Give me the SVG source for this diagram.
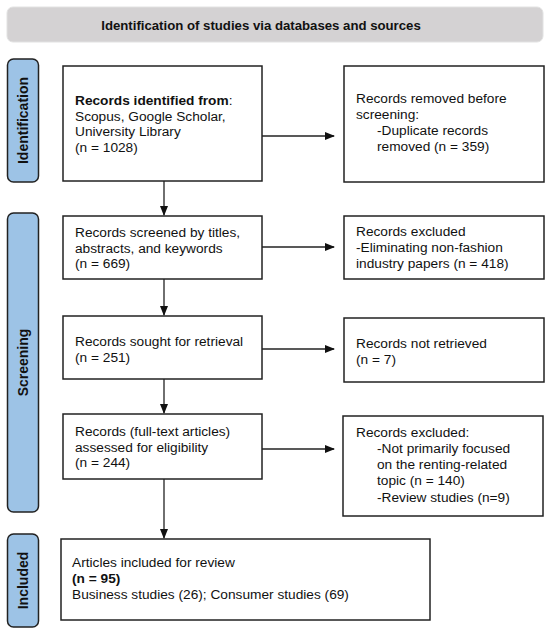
<svg xmlns="http://www.w3.org/2000/svg" width="550" height="634" viewBox="0 0 550 634">
<defs>
<marker id="ah" markerWidth="10" markerHeight="10" refX="9" refY="5" orient="auto" markerUnits="userSpaceOnUse">
<path d="M0,1 L10,5 L0,9 Z" fill="#111"/>
</marker>
<style>
text{font-family:"Liberation Sans",Arial,sans-serif;font-size:13.7px;fill:#111}
.b{font-weight:bold}
.box{fill:#fff;stroke:#222;stroke-width:1.5}
.lab{fill:#9dc3e6;stroke:#222;stroke-width:1.5}
.lt{font-weight:bold;font-size:14px;text-anchor:middle}
.c{stroke:#222;stroke-width:1.3;fill:none;marker-end:url(#ah)}
</style>
</defs>
<rect width="550" height="634" fill="#fff"/>
<g id="header">
<rect x="7" y="7" width="536" height="35" rx="6" fill="#d4d2d3" stroke="#e2e2e2"/>
<text x="261" y="30" class="b" text-anchor="middle" style="font-size:13.2px">Identification of studies via databases and sources</text>
</g>
<g id="lab-identification">
<rect x="7.5" y="59" width="31" height="123" rx="6" class="lab"/>
<text class="lt" transform="translate(28,120.5) rotate(-90)">Identification</text>
</g>
<g id="lab-screening">
<rect x="7.5" y="213" width="31" height="299" rx="6" class="lab"/>
<text class="lt" transform="translate(28,362.5) rotate(-90)">Screening</text>
</g>
<g id="lab-included">
<rect x="7.5" y="534" width="31" height="93" rx="6" class="lab"/>
<text class="lt" transform="translate(28,580.5) rotate(-90)">Included</text>
</g>
<g id="n-identified">
<rect x="63" y="66" width="199" height="115" class="box"/>
<text x="75" y="105"><tspan class="b">Records identified from</tspan>:</text>
<text x="75" y="121">Scopus, Google Scholar,</text>
<text x="75" y="136">University Library</text>
<text x="75" y="152">(n = 1028)</text>
</g>
<g id="n-removed">
<rect x="344" y="66" width="200" height="116" class="box"/>
<text x="356" y="103">Records removed before</text>
<text x="356" y="119">screening:</text>
<text x="377" y="135">-Duplicate records</text>
<text x="377" y="151">removed (n = 359)</text>
</g>
<g id="n-screened">
<rect x="63" y="216" width="199" height="63" class="box"/>
<text x="75" y="237">Records screened by titles,</text>
<text x="75" y="253">abstracts, and keywords</text>
<text x="75" y="268">(n = 669)</text>
</g>
<g id="n-excluded1">
<rect x="344" y="216" width="200" height="63" class="box"/>
<text x="356" y="236">Records excluded</text>
<text x="356" y="252">-Eliminating non-fashion</text>
<text x="356" y="268">industry papers (n = 418)</text>
</g>
<g id="n-sought">
<rect x="63" y="316" width="199" height="63" class="box"/>
<text x="75" y="346">Records sought for retrieval</text>
<text x="75" y="362">(n = 251)</text>
</g>
<g id="n-notretrieved">
<rect x="344" y="318" width="200" height="64" class="box"/>
<text x="356" y="348">Records not retrieved</text>
<text x="356" y="364">(n = 7)</text>
</g>
<g id="n-assessed">
<rect x="63" y="414" width="199" height="65" class="box"/>
<text x="75" y="436">Records (full-text articles)</text>
<text x="75" y="452">assessed for eligibility</text>
<text x="75" y="467">(n = 244)</text>
</g>
<g id="n-excluded2">
<rect x="343" y="416" width="200" height="100" class="box"/>
<text x="356" y="437">Records excluded:</text>
<text x="377" y="453">-Not primarily focused</text>
<text x="377" y="469">on the renting-related</text>
<text x="377" y="485">topic (n = 140)</text>
<text x="377" y="502">-Review studies (n=9)</text>
</g>
<g id="n-included">
<rect x="61" y="539" width="369" height="81" class="box"/>
<text x="72" y="567">Articles included for review</text>
<text x="72" y="583" class="b">(n = 95)</text>
<text x="72" y="599">Business studies (26); Consumer studies (69)</text>
</g>
<g id="connectors">
<line x1="262" y1="136" x2="334" y2="136" class="c"/>
<line x1="164" y1="181" x2="164" y2="215" class="c"/>
<line x1="262" y1="247" x2="334" y2="247" class="c"/>
<line x1="164" y1="279" x2="164" y2="315" class="c"/>
<line x1="262" y1="349" x2="334" y2="349" class="c"/>
<line x1="164" y1="379" x2="164" y2="413" class="c"/>
<line x1="262" y1="449" x2="334" y2="449" class="c"/>
<line x1="164" y1="479" x2="164" y2="538" class="c"/>
</g>
</svg>
